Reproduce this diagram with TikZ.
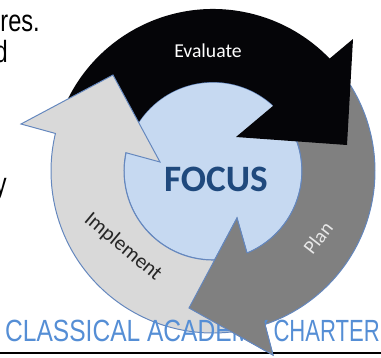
\documentclass[tikz,border=0pt]{standalone}
\usepackage{fontspec}
\setmainfont{Liberation Sans}
\newfontfamily\cyclefont{Carlito}
\usetikzlibrary{calc}
\definecolor{cyBlack}{RGB}{5,5,8}
\definecolor{cyDark}{RGB}{128,128,128}
\definecolor{cyLight}{RGB}{217,217,217}
\definecolor{cyCore}{RGB}{198,217,241}
\definecolor{cyEdge}{RGB}{100,135,190}
\definecolor{cyFocus}{RGB}{31,73,125}
\definecolor{cyFoot}{RGB}{85,142,213}
\tikzset{
    band/.style={line width=0.7pt, line join=miter},
    core/.style={fill=cyCore, draw=cyEdge, line width=0.9pt},
    tag/.style={font=\cyclefont\fontsize{14}{16}\selectfont, inner sep=0pt},
    slide/.style={font=\fontsize{21.8}{24}\selectfont, inner sep=0pt, xscale=0.77}
}

\begin{document}
\begin{tikzpicture}[x=0.025cm, y=-0.025cm]
  \useasboundingbox (0,0) rectangle (381,357);
  \coordinate (c) at (213,171);

  % slide text behind the cycle
  \node[slide, anchor=base east] (res) at (40,31) {res.};
  \node[slide, anchor=base east] (and) at (8,62) {d};
  \node[slide, anchor=base east] (any) at (7,194) {y};

  % centre disc
  \node[core, circle, minimum size=178*0.025cm, inner sep=0pt] (focusdisc) at (c) {};

  % Plan (dark grey)
  \draw[band, fill=cyDark, draw=cyEdge]
    ($(c)+(-32:162)$) arc[start angle=-32, end angle=71.3, radius=162]
    -- (273,355) -- (189,308) -- (237,218) -- (247,253)
    arc[start angle=67.5, end angle=-32, radius=89] -- cycle;

  % Evaluate (black)
  \fill[cyBlack]
    ($(c)+(-165:162)$) arc[start angle=-165, end angle=-43.95, radius=162]
    -- (353,39) -- (347,145) -- (236,137) -- (273.4,105.6)
    arc[start angle=-47.3, end angle=-165, radius=89] -- cycle;

  % Implement (light grey)
  \draw[band, fill=cyLight, draw=cyEdge]
    ($(c)+(80:162)$) arc[start angle=80, end angle=193.4, radius=162]
    -- (21,124) -- (113,75) -- (160,162) -- (125.9,152.7)
    arc[start angle=191.9, end angle=80, radius=89] -- cycle;

  % footer line and text
  \draw[line width=1.2pt] (0,353) -- (381,353);
  \node[slide, xscale=1.04, anchor=base west, text=cyFoot] (school) at (5,341)
    {CLASSICAL ACADEMY};
  \node[slide, xscale=0.935, anchor=base east, text=cyFoot] (charter) at (380,341)
    {CHARTER};

  % Plan head again, over the Implement tail
  \draw[band, fill=cyDark, draw=cyEdge]
    (265,324.4) -- (273,355) -- (189,308) -- (237,218) -- (247,253);

  % labels
  \node[tag, text=white] (evaluate) at (208,51) {Evaluate};
  \node[tag, text=cyFocus, font=\cyclefont\bfseries\fontsize{26.5}{30}\selectfont]
    (focus) at (216,179) {FOCUS};
  \node[tag, text=cyLight!60!white, rotate=52] (plan) at (318,238) {Plan};
  \node[tag, text=black!85, rotate=-40, font=\cyclefont\fontsize{15}{17}\selectfont]
    (implement) at (123,247) {Implement};
\end{tikzpicture}
\end{document}
